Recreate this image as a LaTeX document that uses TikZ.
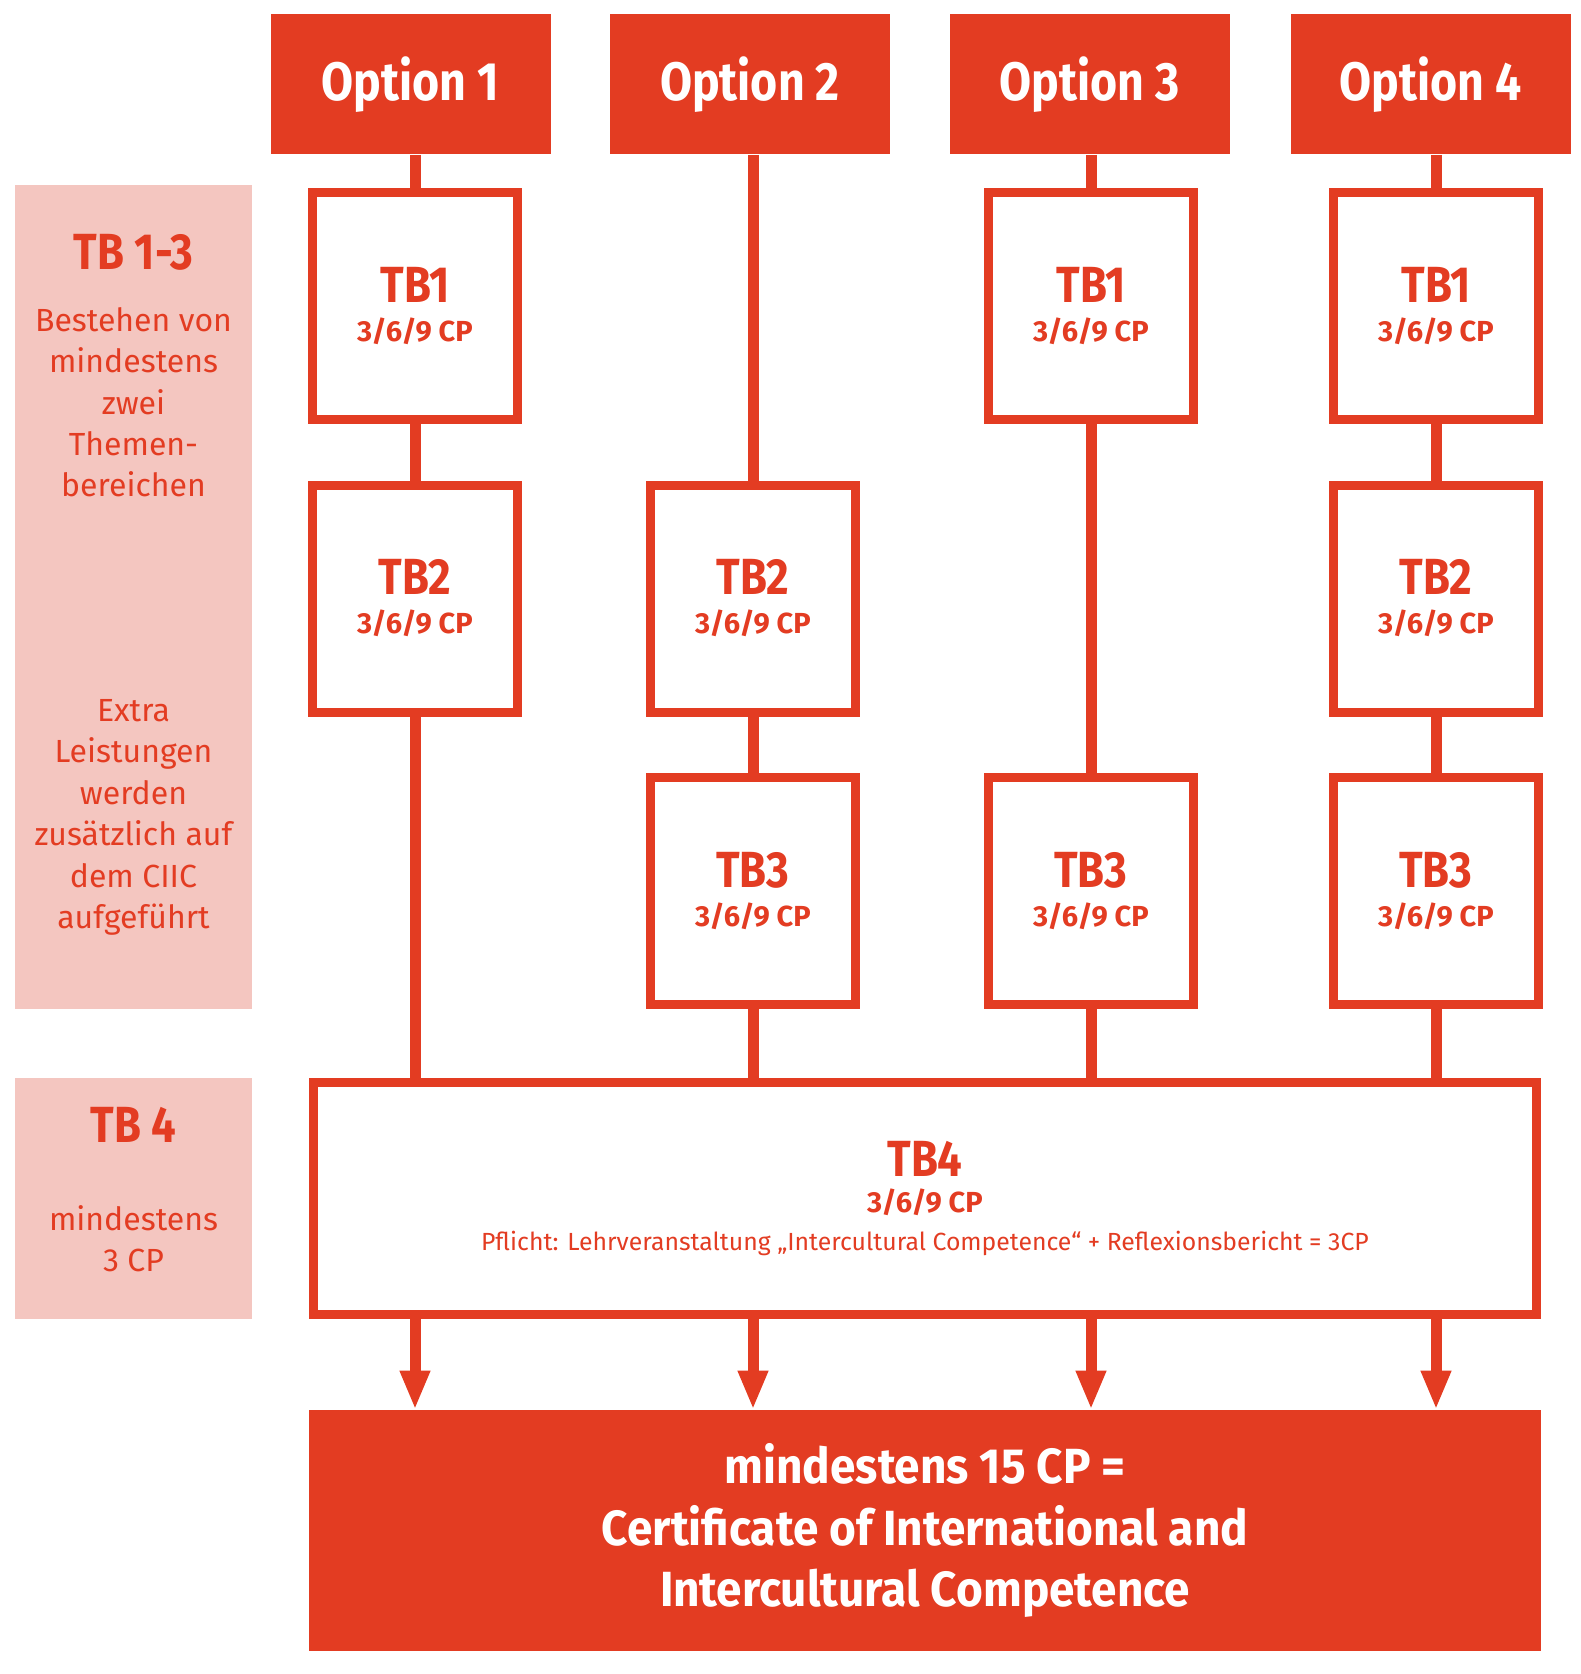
\documentclass[tikz,border=0pt]{standalone}
\usepackage{fontspec}
\setmainfont{Fira Sans}
\newfontfamily\condbf{Fira Sans}[FakeStretch=0.86]
\newfontfamily\finalbf{Fira Sans}[FakeStretch=0.93]
\usetikzlibrary{arrows.meta}
\definecolor{hsred}{RGB}{227,60,34}
\definecolor{hspink}{RGB}{244,198,192}
\newcommand\cp[1]{{\normalfont\bfseries\fontsize{14.5}{16}\selectfont #1}}
\newcommand\pflicht[1]{{\normalfont\fontsize{12.4}{14}\selectfont #1}}
\tikzset{
	optbox/.style={fill=hsred, text=white, inner sep=0pt, minimum width=140pt, minimum height=70pt, font=\condbf\bfseries\fontsize{27}{30}\selectfont},
	tbbox/.style={draw=hsred, fill=white, text=hsred, line width=4.5pt, inner sep=0pt, align=center, minimum width=102.5pt, minimum height=113.5pt, font=\condbf\bfseries\fontsize{25.4}{19.5}\selectfont},
	sidebox/.style={fill=hspink, inner sep=0pt, minimum width=118.5pt},
	sidehead/.style={text=hsred, inner sep=0pt, font=\condbf\bfseries\fontsize{25.4}{30}\selectfont},
	sidetext/.style={text=hsred, inner sep=0pt, align=center, font=\fontsize{16}{20.7}\selectfont},
	final/.style={fill=hsred, text=white, inner sep=0pt, align=center, minimum width=616pt, minimum height=120.5pt, font=\finalbf\bfseries\fontsize{24.7}{30.75}\selectfont},
	conn/.style={draw=hsred, line width=5.5pt},
	arr/.style={conn, -{Triangle[length=19.5pt,width=14pt]}}
}
\begin{document}
\begin{tikzpicture}[x=0.5pt, y=-0.5pt]
	\useasboundingbox (0,0) rectangle (1580,1674);
	% linke Spalte
	\node[sidebox, minimum height=412pt] (side1) at (133.5,597) {};
	\node[sidebox, minimum height=120.5pt] (side2) at (133.5,1198.5) {};
	\node[sidehead, anchor=base] (head1) at (133.5,270) {TB 1-3};
	\node[sidetext, anchor=north] (text1) at (133.5,307) {Bestehen von\\mindestens\\zwei\\Themen-\\bereichen};
	\node[sidetext, anchor=north] (text2) at (133.5,699) {Extra\\Leistungen\\werden\\zusätzlich auf\\dem CIIC\\aufgeführt};
	\node[sidehead, anchor=base] (head2) at (133.5,1142) {TB 4};
	\node[sidetext, anchor=north] (text3) at (133.5,1205) {mindestens\\3 CP};
	% Optionen
	\node[optbox] (o1) at (410.5,84.5) {Option 1};
	\node[optbox] (o2) at (750,84.5) {Option 2};
	\node[optbox] (o3) at (1089.5,84.5) {Option 3};
	\node[optbox] (o4) at (1430.5,84.5) {Option 4};
	% Themenbereiche
	\node[tbbox] (tb11) at (415,306) {TB1\\\cp{3/6/9 CP}};
	\node[tbbox] (tb21) at (415,598.5) {TB2\\\cp{3/6/9 CP}};
	\node[tbbox] (tb22) at (753,598.5) {TB2\\\cp{3/6/9 CP}};
	\node[tbbox] (tb32) at (753,891) {TB3\\\cp{3/6/9 CP}};
	\node[tbbox] (tb13) at (1091,306) {TB1\\\cp{3/6/9 CP}};
	\node[tbbox] (tb33) at (1091,891) {TB3\\\cp{3/6/9 CP}};
	\node[tbbox] (tb14) at (1436,306) {TB1\\\cp{3/6/9 CP}};
	\node[tbbox] (tb24) at (1436,598.5) {TB2\\\cp{3/6/9 CP}};
	\node[tbbox] (tb34) at (1436,891) {TB3\\\cp{3/6/9 CP}};
	\node[tbbox, minimum width=611.5pt, minimum height=116pt, font=\condbf\bfseries\fontsize{25.4}{18}\selectfont] (tb4) at (925,1198.5) {TB4\\\cp{3/6/9 CP}\\[1pt]\pflicht{Pflicht: Lehrveranstaltung „Intercultural Competence“ + Reflexionsbericht = 3CP}};
	\node[final] (cert) at (925,1530.5) {mindestens 15 CP =\\Certificate of International and\\Intercultural Competence};
	% Verbindungen
	\draw[conn] (tb11 |- o1.south) -- (tb11) -- (tb21) -- (tb21 |- tb4.north);
	\draw[conn] (tb22 |- o2.south) -- (tb22) -- (tb32) -- (tb32 |- tb4.north);
	\draw[conn] (tb13 |- o3.south) -- (tb13) -- (tb33) -- (tb33 |- tb4.north);
	\draw[conn] (tb14 |- o4.south) -- (tb14) -- (tb24) -- (tb34) -- (tb34 |- tb4.north);
	\foreach \c in {tb11,tb22,tb13,tb14}
		\draw[arr] (\c |- tb4.south) -- (\c |- cert.north);
\end{tikzpicture}
\end{document}
